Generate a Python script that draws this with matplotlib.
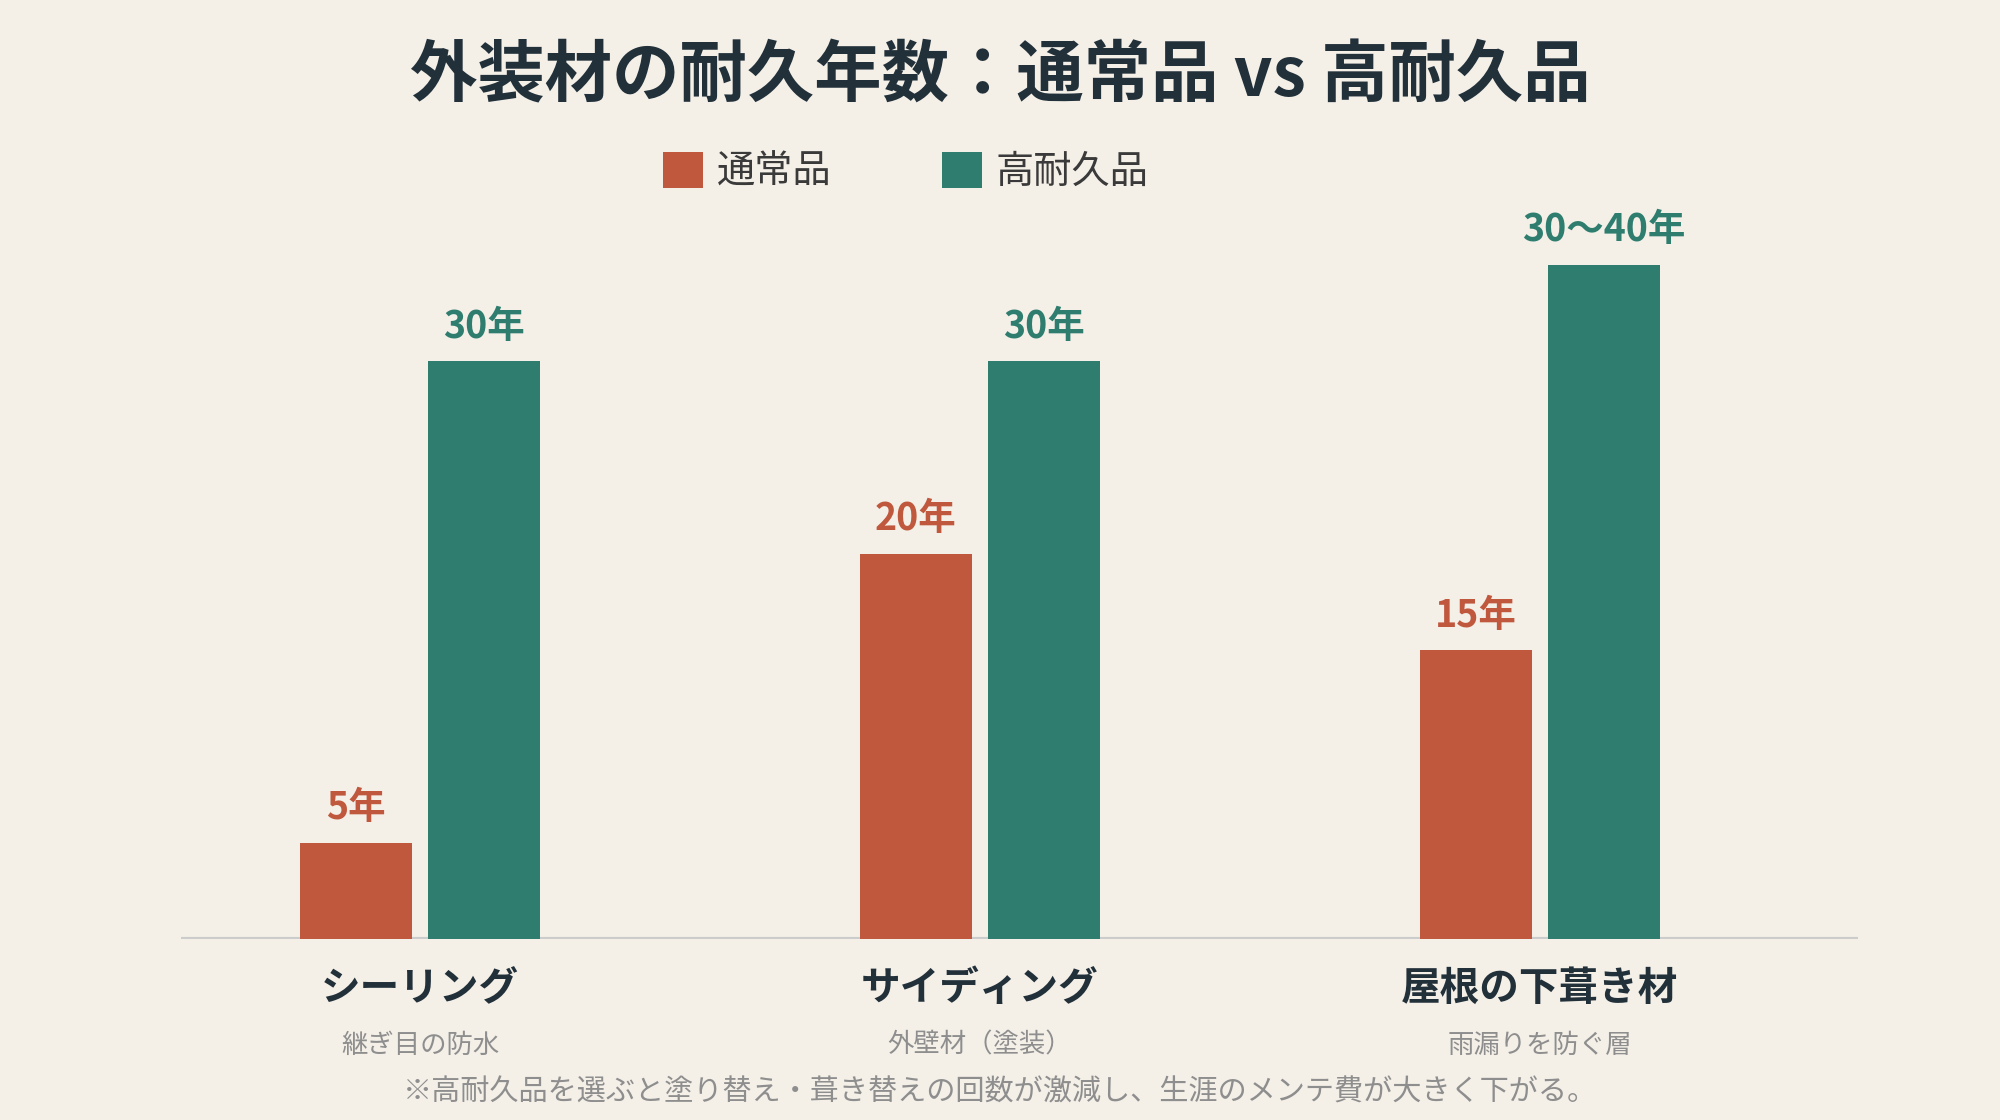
import matplotlib
matplotlib.use("Agg")
import matplotlib.pyplot as plt
import numpy as np

plt.rcParams["font.family"] = ["Noto Sans CJK JP", "DejaVu Sans"]

# data
categories = ["シーリング", "サイディング", "屋根の下葺き材"]
subtitles = ["継ぎ目の防水", "外壁材（塗装）", "雨漏りを防ぐ層"]
normal_years = [5, 20, 15]
durable_years = [30, 30, 35]
normal_labels = ["5年", "20年", "15年"]
durable_labels = ["30年", "30年", "30〜40年"]
series_names = ["通常品", "高耐久品"]

bg = "#F4F0E8"
red = "#C0583E"
teal = "#2E7D6E"
dark = "#22303A"
gray = "#8E8E8E"

W, H = 2000, 1120
fig = plt.figure(figsize=(20, 11.2), dpi=100, facecolor=bg)

# axes placed in pixel terms
left, right, base, top = 181, 1858, 939, 200
ax = fig.add_axes([left / W, 1 - base / H, (right - left) / W, (base - top) / H])
ax.set_facecolor(bg)

px_per_unit = 560.0
px_per_year = 19.27
x = np.arange(len(categories))
bw = 112 / px_per_unit
off = 64 / px_per_unit

b1 = ax.bar(x - off, normal_years, bw, color=red, zorder=2, label=series_names[0])
b2 = ax.bar(x + off, durable_years, bw, color=teal, zorder=2, label=series_names[1])

ax.set_xlim((left - 420) / px_per_unit, (right - 420) / px_per_unit)
ax.set_ylim(0, (base - top) / px_per_year)
ax.axhline(0, color="#CCCCCC", lw=3, zorder=1)

for s in ax.spines.values():
    s.set_visible(False)
ax.set_xticks([])
ax.set_yticks([])

for rect, lab in zip(b1, normal_labels):
    ax.annotate(lab, (rect.get_x() + rect.get_width() / 2, rect.get_height()),
                xytext=(0, 11), textcoords="offset points", ha="center", va="bottom",
                fontsize=27, fontweight="bold", color=red)
for rect, lab in zip(b2, durable_labels):
    ax.annotate(lab, (rect.get_x() + rect.get_width() / 2, rect.get_height()),
                xytext=(0, 11), textcoords="offset points", ha="center", va="bottom",
                fontsize=27, fontweight="bold", color=teal)

for i, (c, s) in enumerate(zip(categories, subtitles)):
    ax.annotate(c, (i, 0), xytext=(0, -35.5), textcoords="offset points",
                ha="center", va="center", fontsize=28.5, fontweight="bold", color=dark,
                annotation_clip=False)
    ax.annotate(s, (i, 0), xytext=(0, -76.5), textcoords="offset points",
                ha="center", va="center", fontsize=19, color=gray,
                annotation_clip=False)

fig.text(0.5, 1 - 77 / H, "外装材の耐久年数：通常品 vs 高耐久品", ha="center", va="center",
         fontsize=48.5, fontweight="bold", color=dark)

fig.legend(handles=[b1, b2], labels=series_names, loc="center",
           bbox_to_anchor=(906 / W, 1 - 172 / H), ncol=2, frameon=False,
           fontsize=27.5, handlelength=1.05, handleheight=1.05,
           handletextpad=0.35, columnspacing=2.9, labelcolor="#3A3A3A")

fig.text(0.5, 1 - 1092 / H,
         "※高耐久品を選ぶと塗り替え・葺き替えの回数が激減し、生涯のメンテ費が大きく下がる。",
         ha="center", va="center", fontsize=21, color=gray)

fig.savefig("out.png", dpi=100, facecolor=bg)
